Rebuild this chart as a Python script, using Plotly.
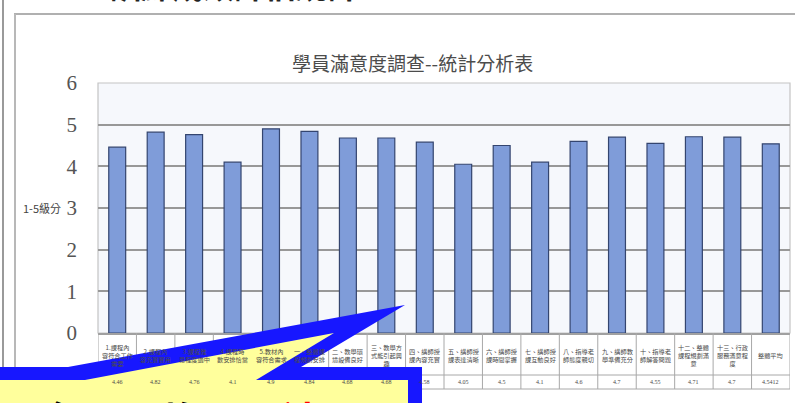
import plotly.graph_objects as go

# Survey items (table row under the chart) and their mean scores
categories = [
    "1.課程內容符合工作需要", "2.課程內容充實實用", "3.課程難易程度適中",
    "4.課程時數安排恰當", "5.教材內容符合需求", "一、整體課程規劃安排",
    "二、教學環境設備良好", "三、教學方式能引起興趣", "四、講師授課內容充實",
    "五、講師授課表達清晰", "六、講師授課時間掌握", "七、講師授課互動良好",
    "八、指導老師態度親切", "九、講師教學準備充分", "十、指導老師解答問題",
    "十二、整體課程規劃滿意", "十三、行政服務滿意程度", "整體平均",
]
scores = [4.46, 4.82, 4.76, 4.10, 4.90, 4.84, 4.68, 4.68, 4.58,
          4.05, 4.50, 4.10, 4.60, 4.70, 4.55, 4.71, 4.70, 4.5412]
y_ticks = [0, 1, 2, 3, 4, 5, 6]

W, H = 795, 403
L, R, T, B = 98, 5, 83, 70
PW, PH = W - L - R, H - T - B


def px(x):
    return (x - L) / PW


def py(y):
    return (H - B - y) / PH


def wrap(s, n=5):
    return "<br>".join(s[i:i + n] for i in range(0, len(s), n))


xs = list(range(len(categories)))

fig = go.Figure(go.Bar(
    x=xs, y=scores,
    marker=dict(color="#7f9cd9", line=dict(color="#34456f", width=1.2)),
    width=0.44,
))

shapes = []
annotations = []

# chart frame and slide edge
shapes.append(dict(type="line", xref="paper", yref="paper",
                   x0=px(14), x1=px(800), y0=py(14), y1=py(14),
                   line=dict(color="#b0b0b0", width=2)))
shapes.append(dict(type="line", xref="paper", yref="paper",
                   x0=px(15), x1=px(15), y0=py(14), y1=py(410),
                   line=dict(color="#b8b8b8", width=2)))
shapes.append(dict(type="line", xref="paper", yref="paper",
                   x0=px(3), x1=px(3), y0=py(-5), y1=py(410),
                   line=dict(color="#9a9a9a", width=2)))

# plot area border
shapes.append(dict(type="rect", xref="paper", yref="paper",
                   x0=0, x1=1, y0=0, y1=1,
                   line=dict(color="#c4c4c4", width=1.2), layer="below"))

# data table grid under the axis
for i in range(len(categories) + 1):
    shapes.append(dict(type="line", xref="x", yref="paper",
                       x0=i - 0.5, x1=i - 0.5, y0=0, y1=py(389),
                       line=dict(color="#a8a8a8", width=1)))
for yy in (375, 389):
    shapes.append(dict(type="line", xref="paper", yref="paper",
                       x0=0, x1=1, y0=py(yy), y1=py(yy),
                       line=dict(color="#a8a8a8", width=1)))

for i, (c, v) in enumerate(zip(categories, scores)):
    annotations.append(dict(x=i, y=py(355), xref="x", yref="paper",
                            yanchor="middle", valign="middle",
                            text=wrap(c), showarrow=False,
                            font=dict(size=6.2, color="#4a4a4a",
                                      family="Noto Sans CJK TC")))
    annotations.append(dict(x=i, y=py(382), xref="x", yref="paper",
                            yanchor="middle",
                            text=f"{v:g}", showarrow=False,
                            font=dict(size=6, color="#4a4a4a",
                                      family="Liberation Serif")))

# chart title
annotations.append(dict(x=px(412), y=py(47), xref="paper", yref="paper",
                        text="學員滿意度調查--統計分析表", showarrow=False,
                        font=dict(size=19, color="#4c4c4c",
                                  family="Noto Sans CJK TC")))
# y axis caption
annotations.append(dict(x=px(63), y=py(208), xref="paper", yref="paper",
                        xanchor="right", text="1-5級分", showarrow=False,
                        font=dict(size=11, color="#444",
                                  family="Noto Sans CJK TC")))
# slide heading above the frame
annotations.append(dict(x=px(46), y=py(9), xref="paper", yref="paper",
                        xanchor="left", yanchor="bottom",
                        text="<b>二、訓練成效評估統計</b>", showarrow=False,
                        font=dict(size=31, color="#222",
                                  family="Noto Sans CJK TC")))


def poly(points):
    return "M " + " L ".join(f"{px(x):.5f},{py(y):.5f}" for x, y in points) + " Z"


# speech-bubble callout
outer = [(-20, 367), (68, 367), (405, 305), (301, 367), (422, 367),
         (422, 420), (-20, 420)]
inner = [(-20, 380), (85, 380), (334, 333), (256, 380), (408, 380),
         (408, 420), (-20, 420)]
shapes.append(dict(type="path", xref="paper", yref="paper", path=poly(outer),
                   fillcolor="#1717ff", line=dict(width=0), layer="above"))
shapes.append(dict(type="path", xref="paper", yref="paper", path=poly(inner),
                   fillcolor="#ffff9c", line=dict(width=0), layer="above"))

annotations.append(dict(x=px(40), y=py(388), xref="paper", yref="paper",
                        xanchor="left", yanchor="top",
                        text="<b>各項平均</b>　　<b><span style='color:#ff0000'>達4</span></b>",
                        showarrow=False,
                        font=dict(size=40, color="#000",
                                  family="Noto Sans CJK TC")))

fig.update_layout(
    width=W, height=H,
    margin=dict(l=L, r=R, t=T, b=B),
    paper_bgcolor="white",
    plot_bgcolor="#f6f8fc",
    showlegend=False,
    bargap=0.56,
    shapes=shapes,
    annotations=annotations,
    xaxis=dict(range=[-0.5, len(categories) - 0.5], showticklabels=False,
               showgrid=False, zeroline=False, ticks="",
               showline=True, linecolor="#a0a0a0", linewidth=1.5),
    yaxis=dict(range=[0, 6], tickvals=y_ticks, showgrid=True,
               gridcolor="#989898", gridwidth=1.8, zeroline=False,
               ticklabelstandoff=20,
               tickfont=dict(size=21, color="#555",
                             family="Liberation Serif")),
)

fig.write_html("out.html")
